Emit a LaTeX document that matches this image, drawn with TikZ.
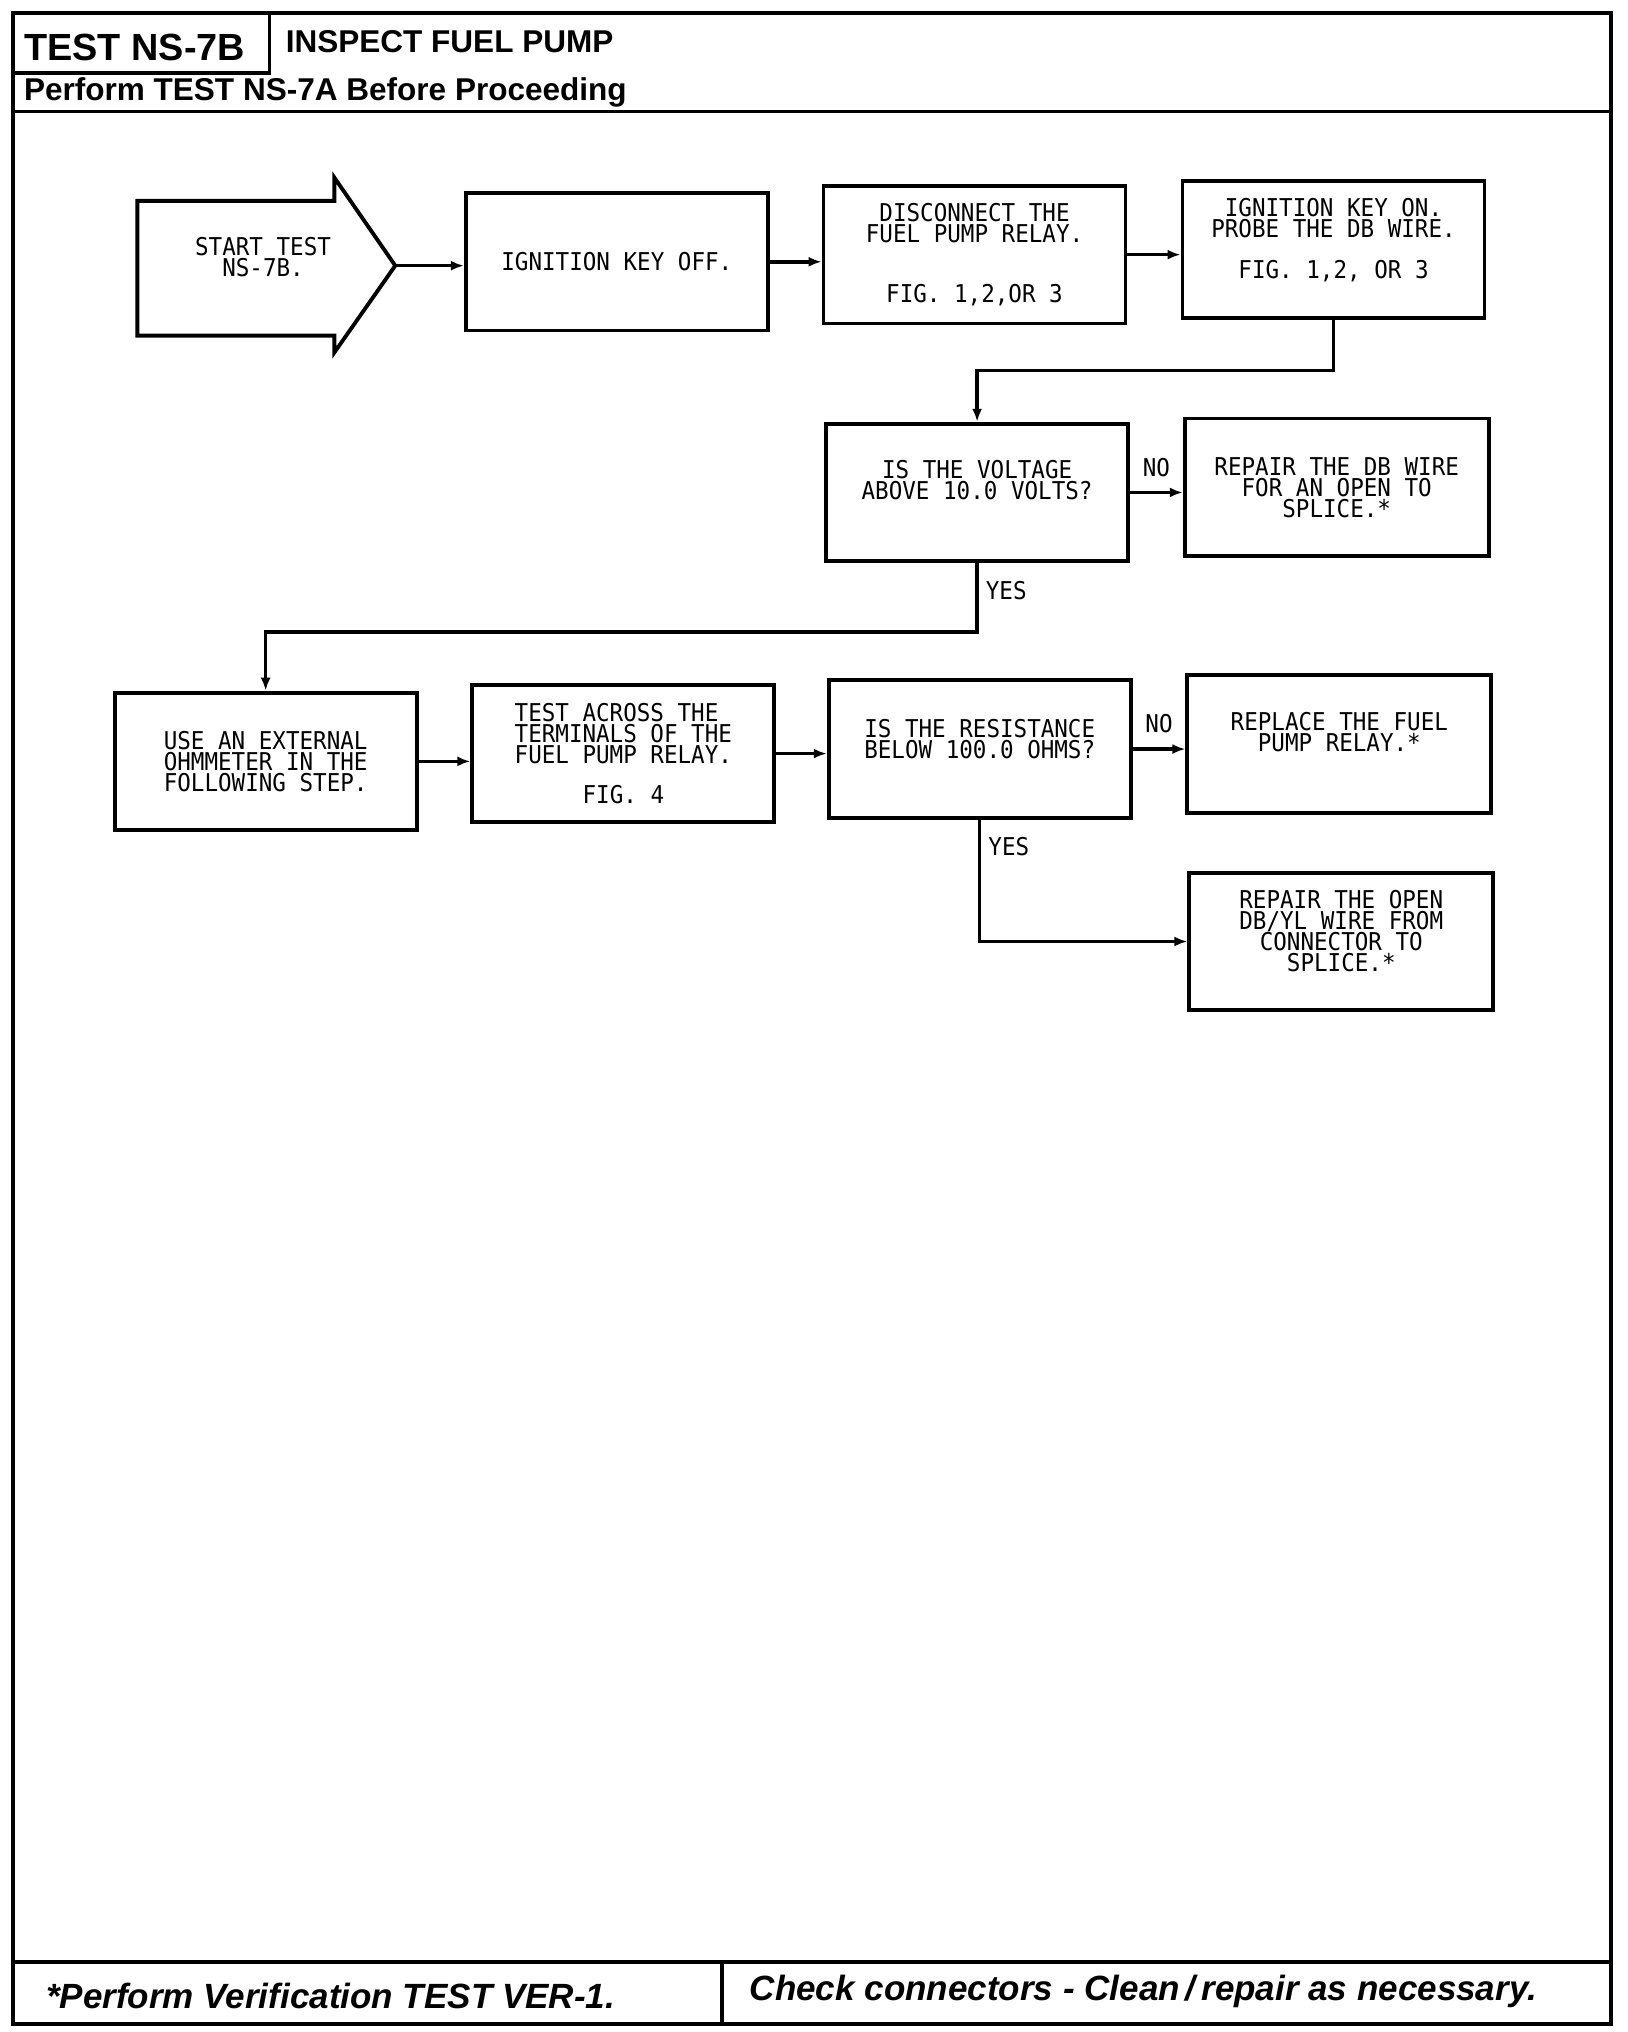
\documentclass[tikz,border=0pt]{standalone}
\usepackage{fontspec}
\usepackage{tikz}
\usetikzlibrary{positioning, arrows.meta, calc}
\newfontfamily\headfont{Liberation Sans}
\newfontfamily\plotfont[FakeStretch=0.92]{DejaVu Sans Mono}
\tikzstyle{block} = [rectangle, draw, line width=1.1pt, minimum width=3.03cm, minimum height=1.38cm, align=center, inner sep=0pt, font=\plotfont\fontsize{7}{6}\selectfont]
\tikzstyle{lblock} = [block, align=left]
\tikzstyle{wblock} = [block, minimum width=3.05cm]
\tikzstyle{line} = [draw, line width=1pt, -{Latex[length=1.3mm, width=1mm]}]
\tikzstyle{lbl} = [inner sep=1pt, font=\plotfont\fontsize{7}{6}\selectfont]
\tikzstyle{frame} = [draw, line width=1.1pt]
\tikzstyle{head} = [anchor=west, inner sep=0pt, font=\headfont\bfseries\fontsize{9}{10}\selectfont]
\tikzstyle{foot} = [anchor=west, inner sep=0pt, font=\headfont\bfseries\itshape\fontsize{10}{11}\selectfont]

\begin{document}
\begin{tikzpicture}[x=0.013cm, y=-0.013cm]
        \useasboundingbox (0,0) rectangle (1256,1568);
        % Frame
        \draw [frame] (10,10) rectangle (1243,1562);
        \draw [frame] (10,10) rectangle (208,56);
        \draw [frame] (10,86) -- (1243,86);
        \draw [frame] (10,1514) -- (1243,1514);
        \draw [frame] (557,1514) -- (557,1562);
        \node (title) [head, anchor=center, font=\headfont\bfseries\fontsize{10.8}{12}\selectfont] at (104,37) {TEST NS-7B};
        \node (subject) [head] at (220,32) {INSPECT FUEL PUMP};
        \node (before) [head] at (18,71) {Perform TEST NS-7A Before Proceeding};
        \node (verify) [foot] at (35,1540) {*Perform Verification TEST VER-1.};
        \node (check) [foot] at (578,1537) {Check connectors - Clean\,/\,repair as necessary.};
        % Nodes
        \coordinate (starttip) at (305,205);
        \draw [frame] (106,155) -- (258,155) -- (258,137) -- (starttip) -- (258,272) -- (258,259) -- (106,259) -- cycle;
        \node (start) [lbl, align=center] at (203,198) {START TEST\\NS-7B.};
        \node (ignoff) [block] at (476,202) {IGNITION KEY OFF.};
        \node (disc) [block] at (752,196.5) {DISCONNECT THE\\FUEL PUMP RELAY.\\[0.39cm]FIG. 1,2,OR 3};
        \node (ignon) [block, text depth=0.23cm] at (1029,192.5) {IGNITION KEY ON.\\PROBE THE DB WIRE.\\[0.2cm]FIG. 1,2, OR 3};
        \node (volt) [block, text depth=0.25cm] at (754,380) {IS THE VOLTAGE\\ABOVE 10.0 VOLTS?};
        \node (repdb) [wblock] at (1031.5,376) {REPAIR THE DB WIRE\\FOR AN OPEN TO\\SPLICE.*};
        \node (ohm) [lblock] at (205,587.5) {USE AN EXTERNAL\\OHMMETER IN THE\\FOLLOWING STEP.};
        \node (across) [block] at (481,581.5) {\begin{tabular}{@{}l@{}}TEST ACROSS THE\\[-0.9pt]TERMINALS OF THE\\[-0.9pt]FUEL PUMP RELAY.\end{tabular}\\[0.12cm]FIG. 4};
        \node (resist) [block, text depth=0.2cm] at (756,578) {IS THE RESISTANCE\\BELOW 100.0 OHMS?};
        \node (replace) [wblock, text depth=0.25cm] at (1033.5,574) {REPLACE THE FUEL\\PUMP RELAY.*};
        \node (repopen) [wblock, text depth=0.22cm] at (1035,726.5) {REPAIR THE OPEN\\DB/YL WIRE FROM\\CONNECTOR TO\\SPLICE.*};
        % Edges
        \path [line] (starttip) -- (starttip -| ignoff.west);
        \path [line] (ignoff.east) -- (ignoff.east -| disc.west);
        \path [line] (disc.east) -- (disc.east -| ignon.west);
        \path [line] (ignon.south) -- ++(0,39) -| (volt.north);
        \path [line] (volt.east) -- node[lbl, above=3pt] {NO} (volt.east -| repdb.west);
        \path [line] (volt.south) -- node[lbl, right=1pt, pos=0.4] {YES} ++(0,53) -| (ohm.north);
        \path [line] (ohm.east) -- (ohm.east -| across.west);
        \path [line] (across.east) -- (across.east -| resist.west);
        \path [line] (resist.east) -- node[lbl, above=3pt] {NO} (resist.east -| replace.west);
        \path [line] (resist.south) |- node[lbl, right=1pt, pos=0.11] {YES} (repopen.west);
    \end{tikzpicture}
\end{document}
